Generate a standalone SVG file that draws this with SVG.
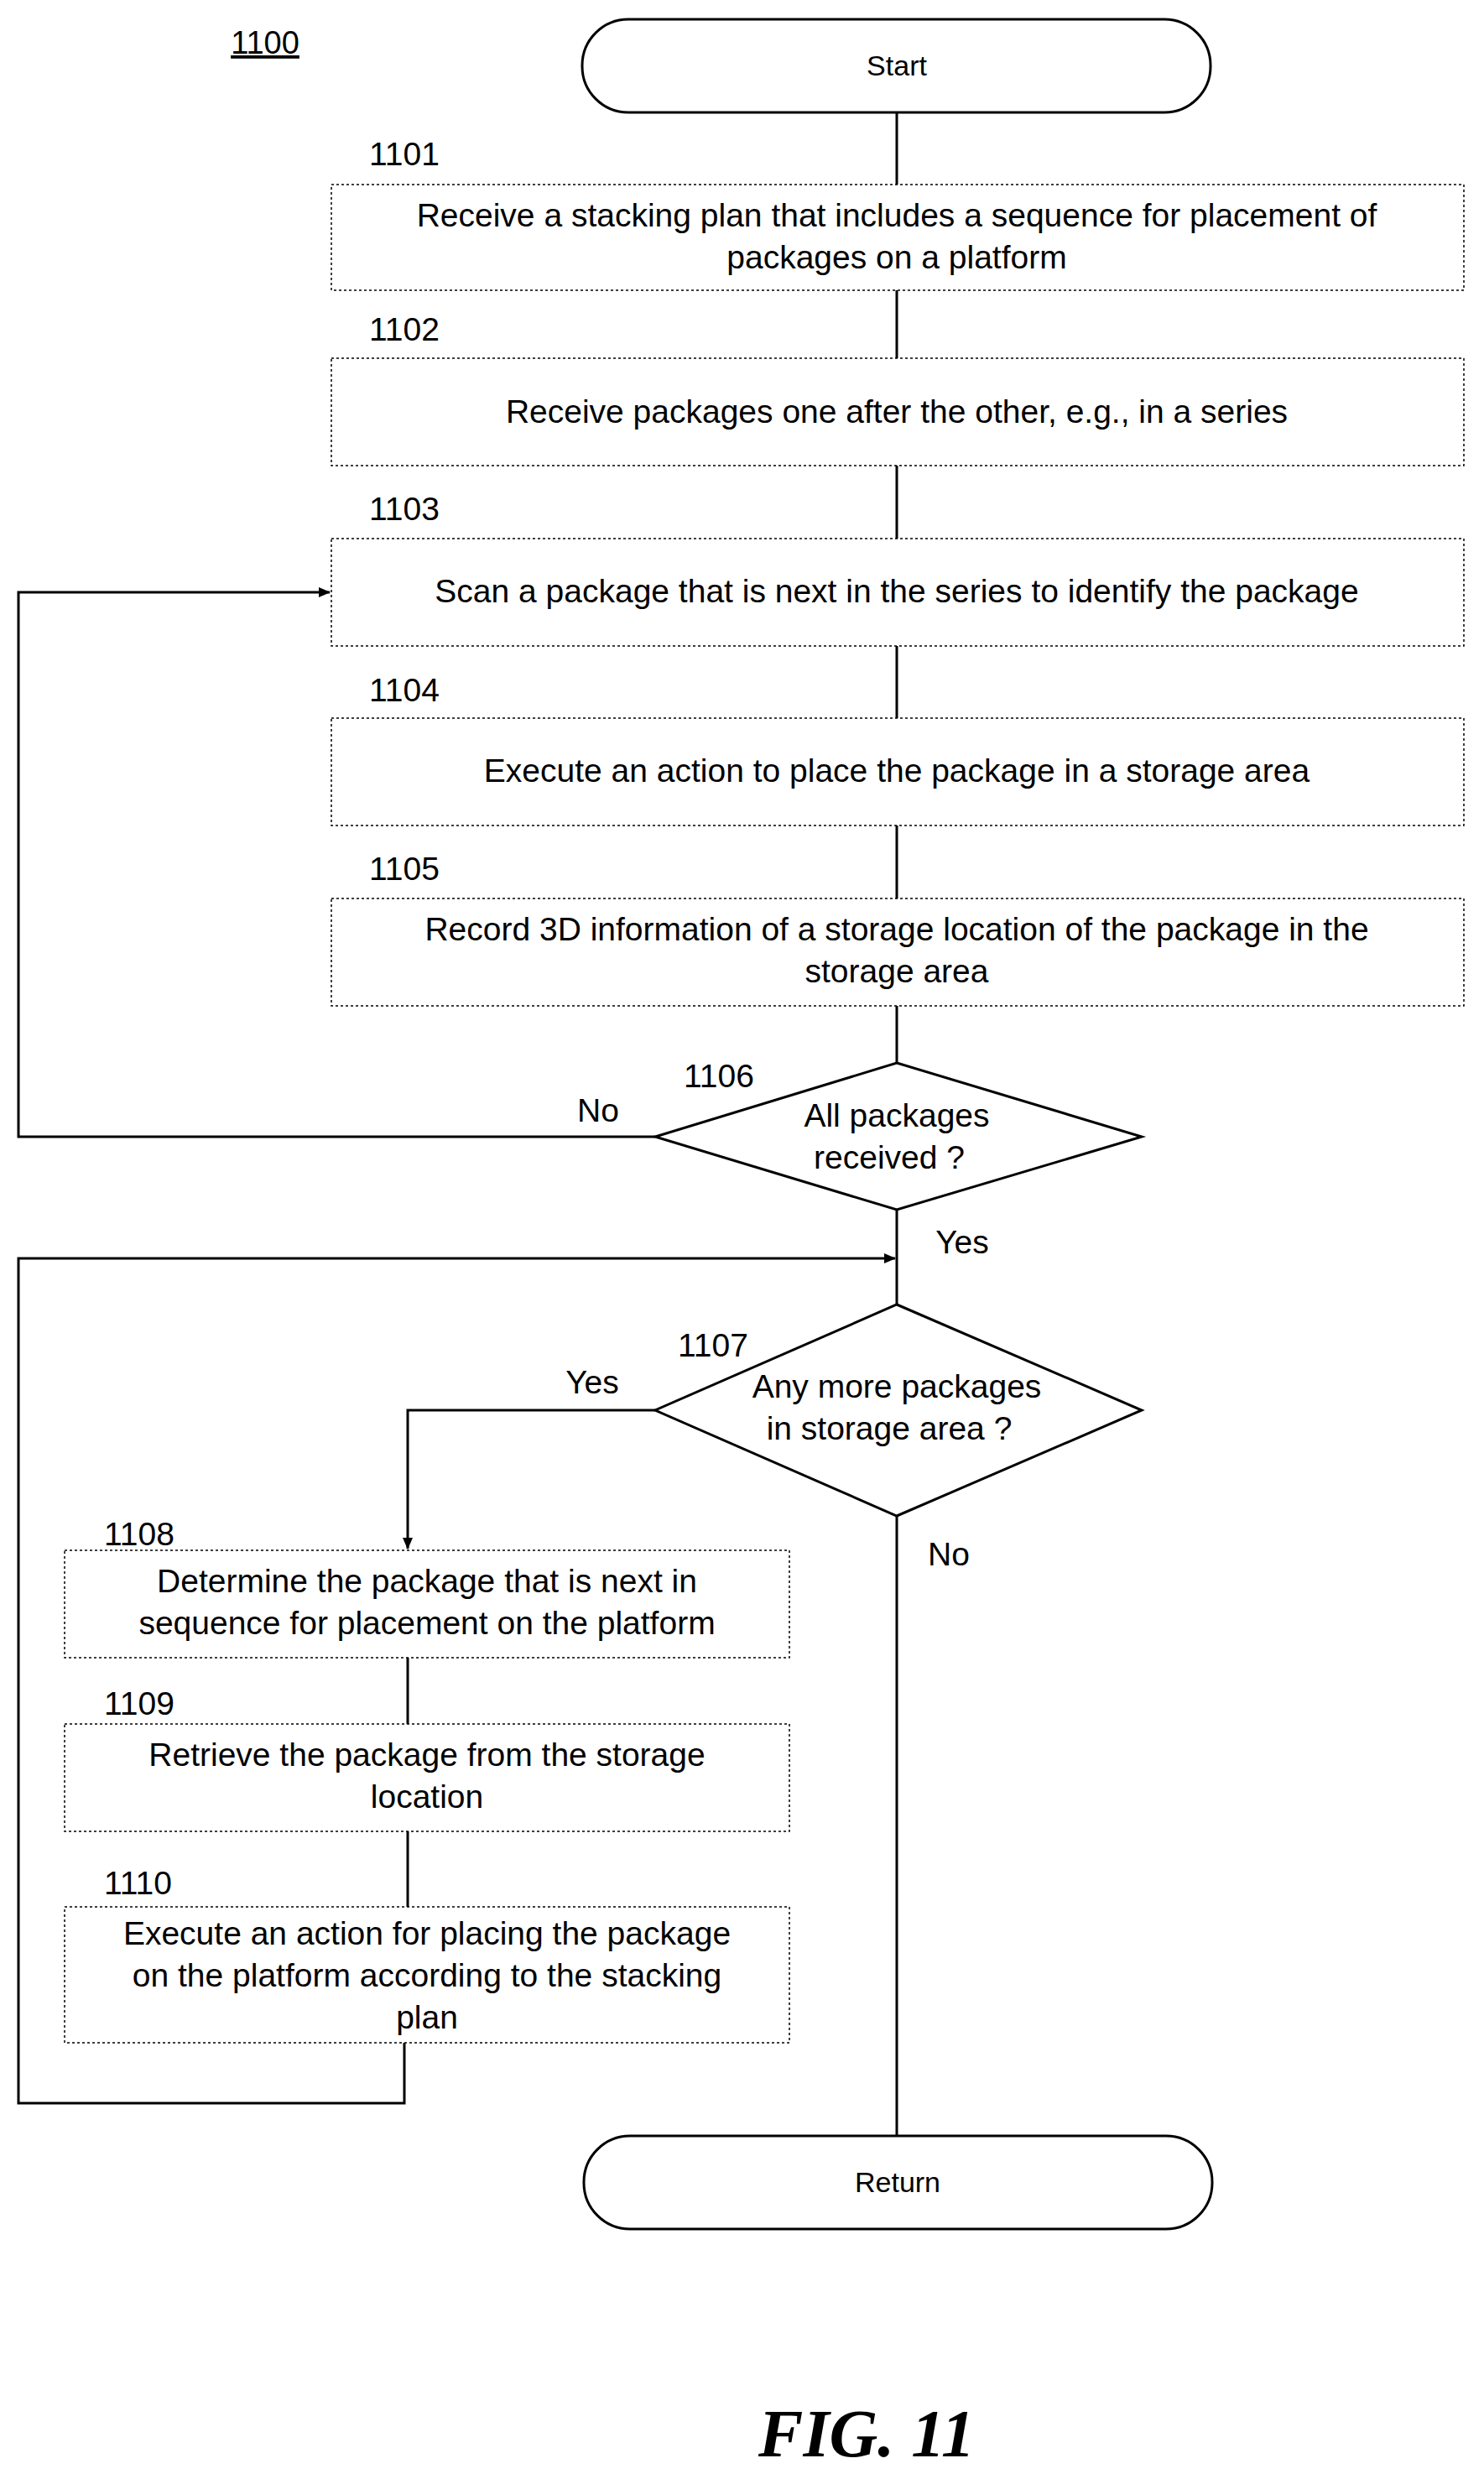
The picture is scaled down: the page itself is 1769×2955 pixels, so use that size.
<svg xmlns="http://www.w3.org/2000/svg" width="1769" height="2955" viewBox="0 0 1769 2955">
<defs>
<style>
text{font-family:"Liberation Sans",Arial,sans-serif;fill:#000}
.t{font-size:39px;text-anchor:middle}
.l{font-size:39px}
.s{font-size:34px;text-anchor:middle}
.box{fill:#fff;stroke:#000;stroke-width:1.5;stroke-dasharray:3 3}
.sh{fill:#fff;stroke:#000;stroke-width:3}
.c{fill:none;stroke:#000;stroke-width:3}
</style>
<marker id="a" markerWidth="14" markerHeight="12" refX="13" refY="6" orient="auto" markerUnits="userSpaceOnUse"><path d="M0,0 L14,6 L0,12 Z" fill="#000"/></marker>
</defs>
<rect width="1769" height="2955" fill="#fff"/>
<text x="316" y="64" class="s" style="text-decoration:underline;font-size:38px">1100</text>
<g id="connectors">
<path class="c" d="M1069,134 V220 M1069,346 V427 M1069,555 V642 M1069,770 V856 M1069,984 V1071 M1069,1199 V1267 M1069,1442 V1555 M1069,1807 V2546"/>
<path class="c" d="M781,1355 H22 V706 H393" marker-end="url(#a)"/>
<path class="c" d="M482,2435 V2507 H22 V1500 H1067" marker-end="url(#a)"/>
<path class="c" d="M781,1681 H486 V1846" marker-end="url(#a)"/>
<path class="c" d="M486,1976 V2055 M486,2183 V2273"/>
<text x="713" y="1337" class="l" text-anchor="middle">No</text>
<text x="1147" y="1494" class="l" text-anchor="middle">Yes</text>
<text x="706" y="1661" class="l" text-anchor="middle">Yes</text>
<text x="1131" y="1866" class="l" text-anchor="middle">No</text>
</g>
<g id="start"><rect class="sh" x="694" y="23" width="749" height="111" rx="55"/><text x="1069" y="90" class="s">Start</text></g>
<g id="n1101"><text x="440" y="197" class="l">1101</text><rect class="box" x="395" y="220" width="1350" height="126"/><text x="1069" y="270" class="t">Receive a stacking plan that includes a sequence for placement of</text><text x="1069" y="320" class="t">packages on a platform</text></g>
<g id="n1102"><text x="440" y="406" class="l">1102</text><rect class="box" x="395" y="427" width="1350" height="128"/><text x="1069" y="504" class="t">Receive packages one after the other, e.g., in a series</text></g>
<g id="n1103"><text x="440" y="620" class="l">1103</text><rect class="box" x="395" y="642" width="1350" height="128"/><text x="1069" y="718" class="t">Scan a package that is next in the series to identify the package</text></g>
<g id="n1104"><text x="440" y="836" class="l">1104</text><rect class="box" x="395" y="856" width="1350" height="128"/><text x="1069" y="932" class="t">Execute an action to place the package in a storage area</text></g>
<g id="n1105"><text x="440" y="1049" class="l">1105</text><rect class="box" x="395" y="1071" width="1350" height="128"/><text x="1069" y="1121" class="t">Record 3D information of a storage location of the package in the</text><text x="1069" y="1171" class="t">storage area</text></g>
<g id="n1106"><polygon class="sh" points="1069,1267 1361,1355 1069,1442 781,1355"/><text x="815" y="1296" class="l">1106</text><text x="1069" y="1343" class="t">All packages</text><text x="1060" y="1393" class="t">received ?</text></g>
<g id="n1107"><polygon class="sh" points="1069,1555 1361,1681 1069,1807 781,1681"/><text x="808" y="1617" class="l">1107</text><text x="1069" y="1666" class="t">Any more packages</text><text x="1060" y="1716" class="t">in storage area ?</text></g>
<g id="n1108"><text x="124" y="1842" class="l">1108</text><rect class="box" x="77" y="1848" width="864" height="128"/><text x="509" y="1898" class="t">Determine the package that is next in</text><text x="509" y="1948" class="t">sequence for placement on the platform</text></g>
<g id="n1109"><text x="124" y="2044" class="l">1109</text><rect class="box" x="77" y="2055" width="864" height="128"/><text x="509" y="2105" class="t">Retrieve the package from the storage</text><text x="509" y="2155" class="t">location</text></g>
<g id="n1110"><text x="124" y="2258" class="l">1110</text><rect class="box" x="77" y="2273" width="864" height="162"/><text x="509" y="2318" class="t">Execute an action for placing the package</text><text x="509" y="2368" class="t">on the platform according to the stacking</text><text x="509" y="2418" class="t">plan</text></g>
<g id="return"><rect class="sh" x="696" y="2546" width="749" height="111" rx="55"/><text x="1070" y="2613" class="s">Return</text></g>
<text x="1033" y="2928" style="font-family:'Liberation Serif',serif;font-style:italic;font-weight:bold;font-size:80px" text-anchor="middle">FIG. 11</text>
</svg>
